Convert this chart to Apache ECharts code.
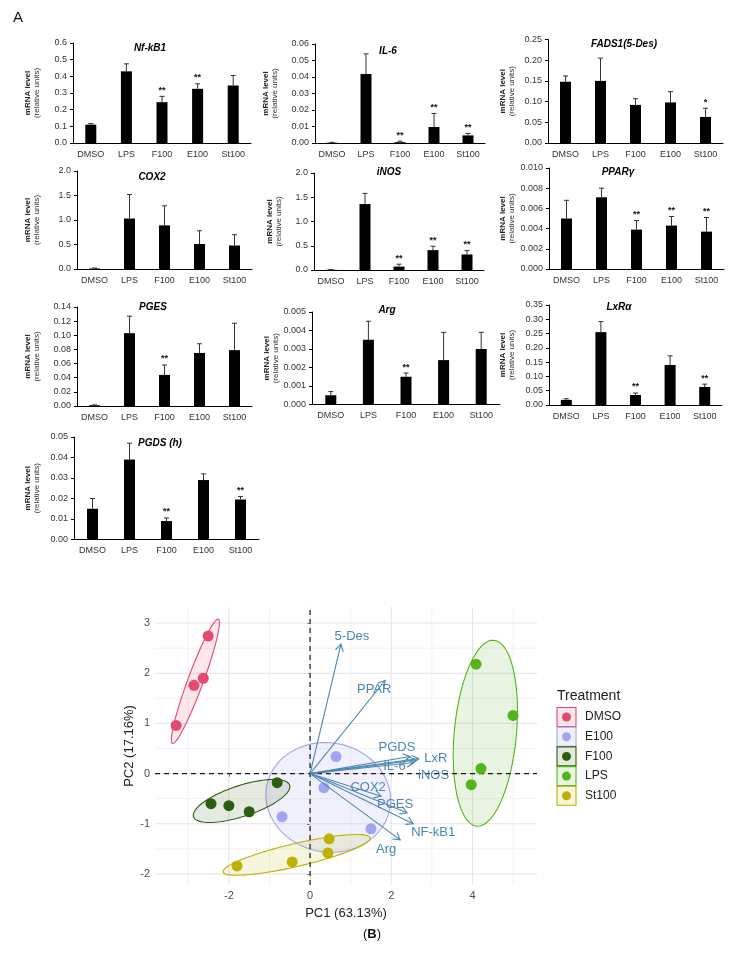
<!DOCTYPE html>
<html>
<head>
<meta charset="utf-8">
<script src="https://cdn.jsdelivr.net/npm/echarts@6.0.0/dist/echarts.min.js"></script>
<style>
  html, body { margin: 0; padding: 0; background: #fff; }
  #chart { width: 745px; height: 956px; }
</style>
</head>
<body>
<div id="chart"></div>
<script>
const FONT = 'Liberation Sans, Arial, sans-serif';

// ---- panel A: qPCR bars (mean + upper SD) ----
const groups = ['DMSO', 'LPS', 'F100', 'E100', 'St100'];

const nfkb1Mean = [0.110, 0.430, 0.245, 0.325, 0.345];
const nfkb1Sd = [0.006, 0.045, 0.035, 0.030, 0.060];
const nfkb1Sig = ['', '', '**', '**', ''];

const il6Mean = [0.0002, 0.0418, 0.0005, 0.0097, 0.0046];
const il6Sd = [0.0002, 0.0122, 0.0006, 0.0082, 0.0012];
const il6Sig = ['', '', '**', '**', '**'];

const fadsMean = [0.148, 0.150, 0.092, 0.098, 0.063];
const fadsSd = [0.014, 0.055, 0.015, 0.026, 0.021];
const fadsSig = ['', '', '', '', '*'];

const cox2Mean = [0.01, 1.03, 0.89, 0.51, 0.48];
const cox2Sd = [0.01, 0.49, 0.40, 0.27, 0.22];
const cox2Sig = ['', '', '', '', ''];

const inosMean = [0.005, 1.36, 0.07, 0.41, 0.32];
const inosSd = [0.003, 0.22, 0.05, 0.08, 0.08];
const inosSig = ['', '', '**', '**', '**'];

const pparMean = [0.0050, 0.0071, 0.0039, 0.0043, 0.0037];
const pparSd = [0.0018, 0.0009, 0.0009, 0.0009, 0.0014];
const pparSig = ['', '', '**', '**', '**'];

const pgesMean = [0.001, 0.103, 0.044, 0.075, 0.079];
const pgesSd = [0.0006, 0.024, 0.014, 0.013, 0.038];
const pgesSig = ['', '', '**', '', ''];

const argMean = [0.0005, 0.0035, 0.0015, 0.0024, 0.0030];
const argSd = [0.0002, 0.0010, 0.0002, 0.0015, 0.0009];
const argSig = ['', '', '**', '', ''];

const lxrMean = [0.018, 0.255, 0.035, 0.140, 0.063];
const lxrSd = [0.004, 0.037, 0.007, 0.032, 0.010];
const lxrSig = ['', '', '**', '', '**'];

const pgdsMean = [0.015, 0.039, 0.009, 0.029, 0.0195];
const pgdsSd = [0.005, 0.008, 0.0015, 0.003, 0.0015];
const pgdsSig = ['', '', '**', '', '**'];

const panels = [
  {gene: 'Nf-kB1', mean: nfkb1Mean, sd: nfkb1Sd, sig: nfkb1Sig, max: 0.6, step: 0.1, dec: 1},
  {gene: 'IL-6', mean: il6Mean, sd: il6Sd, sig: il6Sig, max: 0.06, step: 0.01, dec: 2},
  {gene: 'FADS1(5-Des)', mean: fadsMean, sd: fadsSd, sig: fadsSig, max: 0.25, step: 0.05, dec: 2},
  {gene: 'COX2', mean: cox2Mean, sd: cox2Sd, sig: cox2Sig, max: 2.0, step: 0.5, dec: 1},
  {gene: 'iNOS', mean: inosMean, sd: inosSd, sig: inosSig, max: 2.0, step: 0.5, dec: 1},
  {gene: 'PPARγ', mean: pparMean, sd: pparSd, sig: pparSig, max: 0.010, step: 0.002, dec: 3},
  {gene: 'PGES', mean: pgesMean, sd: pgesSd, sig: pgesSig, max: 0.14, step: 0.02, dec: 2},
  {gene: 'Arg', mean: argMean, sd: argSd, sig: argSig, max: 0.005, step: 0.001, dec: 3},
  {gene: 'LxRα', mean: lxrMean, sd: lxrSd, sig: lxrSig, max: 0.35, step: 0.05, dec: 2},
  {gene: 'PGDS (h)', mean: pgdsMean, sd: pgdsSd, sig: pgdsSig, max: 0.05, step: 0.01, dec: 2}
];

// layout of each small chart (px): plot box, title anchor, y-name gap
const boxes = [
  {left: 73, top: 43, width: 178, height: 100, tx: 150, ty: 48, gap: 32},
  {left: 315, top: 44, width: 170, height: 99, tx: 388, ty: 51, gap: 36},
  {left: 548, top: 39.5, width: 175, height: 103.5, tx: 624, ty: 44, gap: 32},
  {left: 77, top: 171, width: 175, height: 98, tx: 152, ty: 177, gap: 36},
  {left: 314, top: 173, width: 170, height: 97, tx: 389, ty: 172, gap: 31},
  {left: 549, top: 168, width: 175, height: 101, tx: 618, ty: 172, gap: 33},
  {left: 77, top: 307, width: 175, height: 99, tx: 153, ty: 307, gap: 36},
  {left: 312, top: 312, width: 188, height: 92.5, tx: 387, ty: 310, gap: 31},
  {left: 549, top: 305, width: 173, height: 100, tx: 619, ty: 307, gap: 33},
  {left: 74, top: 437, width: 185, height: 102.5, tx: 160, ty: 443, gap: 33}
];

// ---- panel B: PCA biplot ----
const treatments = ['DMSO', 'E100', 'F100', 'LPS', 'St100'];
const dmsoPC1 = [-2.51, -2.63, -2.86, -3.30];
const dmsoPC2 = [2.74, 1.90, 1.76, 0.96];
const e100PC1 = [0.64, 0.34, -0.69, 1.50];
const e100PC2 = [0.34, -0.28, -0.86, -1.10];
const f100PC1 = [-0.81, -2.44, -2.00, -1.50];
const f100PC2 = [-0.18, -0.60, -0.64, -0.76];
const lpsPC1 = [4.09, 5.00, 4.21, 3.97];
const lpsPC2 = [2.18, 1.16, 0.10, -0.22];
const st100PC1 = [-1.80, -0.44, 0.44, 0.47];
const st100PC2 = [-1.84, -1.76, -1.58, -1.30];

const loadNames = ['5-Des', 'PPAR', 'PGDS', 'LxR', 'IL-6', 'iNOS', 'COX2', 'PGES', 'NF-kB1', 'Arg'];
const loadPC1 = [0.76, 1.85, 2.46, 2.68, 2.62, 2.55, 1.75, 2.39, 2.54, 2.22];
const loadPC2 = [2.58, 1.86, 0.34, 0.30, 0.27, 0.22, -0.45, -0.78, -1.00, -1.32];

const pcXTicks = [-2, 0, 2, 4];
const pcXMinor = [-3, -1, 1, 3, 5];
const pcYTicks = [-2, -1, 0, 1, 2, 3];
const pcYMinor = [-1.5, -0.5, 0.5, 1.5, 2.5];

const groupColors = ['#E8476E', '#A3A3F3', '#2D5E10', '#55B31C', '#BDB202'];
const groupFill = ['rgba(232,71,110,0.13)', 'rgba(163,163,243,0.15)', 'rgba(45,94,16,0.13)', 'rgba(85,179,28,0.13)', 'rgba(189,178,2,0.13)'];
const arrowColor = '#4C87B0';
// label offset from arrow tip, px
const labelOffsets = [[11, -8], [-11, 9], [-13, -9], [17, 0], [-22, 6], [20, 13], [-13, -9], [-12, -8], [20, 9], [-14, 10]];
const ELLIPSE_SCALE = 1.7;

const pcaX = [-3.82, 5.59];
const pcaY = [-2.22, 3.32];

function ellipse(xs, ys) {
  const n = xs.length;
  const mx = xs.reduce((a, b) => a + b, 0) / n;
  const my = ys.reduce((a, b) => a + b, 0) / n;
  let sxx = 0, syy = 0, sxy = 0;
  for (let i = 0; i < n; i++) {
    sxx += (xs[i] - mx) ** 2;
    syy += (ys[i] - my) ** 2;
    sxy += (xs[i] - mx) * (ys[i] - my);
  }
  sxx /= n - 1; syy /= n - 1; sxy /= n - 1;
  const a = Math.sqrt(sxx), b = sxy / a, c = Math.sqrt(Math.max(syy - b * b, 0));
  const pts = [];
  for (let k = 0; k <= 90; k++) {
    const t = 2 * Math.PI * k / 90;
    const u = Math.cos(t), v = Math.sin(t);
    pts.push([mx + ELLIPSE_SCALE * a * u, my + ELLIPSE_SCALE * (b * u + c * v)]);
  }
  return pts;
}

const chart = echarts.init(document.getElementById('chart'));

const grid = [], xAxis = [], yAxis = [], series = [], graphic = [];

panels.forEach((p, i) => {
  const b = boxes[i];
  grid.push({left: b.left, top: b.top, width: b.width, height: b.height, outerBoundsMode: 'none'});
  xAxis.push({
    type: 'category', gridIndex: i, data: groups,
    axisLine: {lineStyle: {color: '#000', width: 1}},
    axisTick: {show: false},
    axisLabel: {interval: 0, fontSize: 9, color: '#333', fontFamily: FONT, margin: 7}
  });
  yAxis.push({
    type: 'value', gridIndex: i, min: 0, max: p.max, interval: p.step,
    axisLine: {show: true, lineStyle: {color: '#000', width: 1}},
    axisTick: {show: true, length: 3, lineStyle: {color: '#000'}},
    splitLine: {show: false},
    axisLabel: {fontSize: 9, color: '#333', fontFamily: FONT, margin: 6,
      formatter: v => v.toFixed(p.dec)},
    name: '{a|mRNA level}\n{b|(relative units)}',
    nameLocation: 'middle', nameRotate: 90, nameGap: b.gap,
    nameTextStyle: {
      fontFamily: FONT, color: '#222', align: 'center',
      rich: {
        a: {fontSize: 8, fontWeight: 'bold', lineHeight: 9, fontFamily: FONT, color: '#222'},
        b: {fontSize: 8, lineHeight: 9, fontFamily: FONT, color: '#333'}
      }
    }
  });
  series.push({
    type: 'bar', xAxisIndex: i, yAxisIndex: i, data: p.mean, barWidth: 11,
    itemStyle: {color: '#000'}, silent: true
  });
  series.push({
    type: 'custom', xAxisIndex: i, yAxisIndex: i, silent: true, z: 3,
    data: p.mean.map((m, k) => [k, m, m + p.sd[k]]),
    encode: {x: 0, y: 1},
    renderItem: (params, api) => {
      const k = api.value(0);
      const p0 = api.coord([k, api.value(1)]);
      const p1 = api.coord([k, api.value(2)]);
      const st = {stroke: '#333', lineWidth: 1};
      const children = [
        {type: 'line', shape: {x1: p0[0], y1: p0[1], x2: p1[0], y2: p1[1]}, style: st},
        {type: 'line', shape: {x1: p1[0] - 2.5, y1: p1[1], x2: p1[0] + 2.5, y2: p1[1]}, style: st}
      ];
      const s = p.sig[params.dataIndex];
      if (s) {
        children.push({type: 'text', x: p1[0], y: p1[1] - 6,
          style: {text: s, fontSize: 9, fontWeight: 'bold', fontFamily: FONT, fill: '#111',
            align: 'center', verticalAlign: 'middle'}});
      }
      return {type: 'group', children};
    }
  });
  graphic.push({
    type: 'text', x: b.tx, y: b.ty,
    style: {text: p.gene, fontSize: 10, fontWeight: 'bold', fontStyle: 'italic', fontFamily: FONT,
      fill: '#000', align: 'center', verticalAlign: 'middle'}
  });
});

// PCA grid
const gi = panels.length;
grid.push({left: 155, top: 607, width: 382, height: 278, outerBoundsMode: 'none'});
xAxis.push({
  type: 'value', gridIndex: gi, min: pcaX[0], max: pcaX[1],
  axisLine: {show: false}, splitLine: {show: false},
  axisTick: {show: true, customValues: pcXTicks, length: 3, lineStyle: {color: '#333'}},
  axisLabel: {customValues: pcXTicks, fontSize: 11, color: '#4D4D4D', fontFamily: FONT, margin: 5},
  name: 'PC1 (63.13%)', nameLocation: 'middle', nameGap: 22, nameMoveOverlap: false,
  nameTextStyle: {fontSize: 13, color: '#222', fontFamily: FONT}
});
yAxis.push({
  type: 'value', gridIndex: gi, min: pcaY[0], max: pcaY[1],
  axisLine: {show: false}, splitLine: {show: false},
  axisTick: {show: true, customValues: pcYTicks, length: 3, lineStyle: {color: '#333'}},
  axisLabel: {customValues: pcYTicks, fontSize: 11, color: '#4D4D4D', fontFamily: FONT, margin: 5},
  name: 'PC2 (17.16%)', nameLocation: 'middle', nameRotate: 90, nameGap: 19, nameMoveOverlap: false,
  nameTextStyle: {fontSize: 13, color: '#222', fontFamily: FONT}
});

// background grid lines
series.push({
  type: 'custom', xAxisIndex: gi, yAxisIndex: gi, silent: true, z: 1,
  data: [[0, 0]],
  renderItem: (params, api) => {
    const ch = [];
    const vline = (x, c) => {
      const a = api.coord([x, pcaY[0]]), b = api.coord([x, pcaY[1]]);
      ch.push({type: 'line', shape: {x1: a[0], y1: a[1], x2: b[0], y2: b[1]}, style: {stroke: c, lineWidth: 1}});
    };
    const hline = (y, c) => {
      const a = api.coord([pcaX[0], y]), b = api.coord([pcaX[1], y]);
      ch.push({type: 'line', shape: {x1: a[0], y1: a[1], x2: b[0], y2: b[1]}, style: {stroke: c, lineWidth: 1}});
    };
    pcXMinor.forEach(x => vline(x, '#F2F2F2'));
    pcYMinor.forEach(y => hline(y, '#F2F2F2'));
    pcXTicks.forEach(x => vline(x, '#E3E3E3'));
    pcYTicks.forEach(y => hline(y, '#E3E3E3'));
    return {type: 'group', children: ch};
  }
});

const groupPC1 = [dmsoPC1, e100PC1, f100PC1, lpsPC1, st100PC1];
const groupPC2 = [dmsoPC2, e100PC2, f100PC2, lpsPC2, st100PC2];

treatments.forEach((t, g) => {
  const pts = ellipse(groupPC1[g], groupPC2[g]);
  series.push({
    type: 'custom', xAxisIndex: gi, yAxisIndex: gi, silent: true, z: 2,
    data: [[0, 0]],
    renderItem: (params, api) => ({
      type: 'polygon',
      shape: {points: pts.map(q => api.coord(q))},
      style: {fill: groupFill[g], stroke: groupColors[g], lineWidth: 1.1}
    })
  });
});

// dashed zero lines
series.push({
  type: 'custom', xAxisIndex: gi, yAxisIndex: gi, silent: true, z: 3,
  data: [[0, 0]],
  renderItem: (params, api) => {
    const a = api.coord([pcaX[0], 0]), b = api.coord([pcaX[1], 0]);
    const c = api.coord([0, pcaY[0]]), d = api.coord([0, pcaY[1]]);
    const st = {stroke: '#1A1A1A', lineWidth: 1.2, lineDash: [5, 4]};
    return {type: 'group', children: [
      {type: 'line', shape: {x1: a[0], y1: a[1], x2: b[0], y2: b[1]}, style: st},
      {type: 'line', shape: {x1: c[0], y1: c[1], x2: d[0], y2: d[1]}, style: st}
    ]};
  }
});

treatments.forEach((t, g) => {
  series.push({
    type: 'scatter', name: t, xAxisIndex: gi, yAxisIndex: gi, z: 5, silent: true,
    symbolSize: 11, itemStyle: {color: groupColors[g], opacity: 1},
    data: groupPC1[g].map((x, k) => [x, groupPC2[g][k]])
  });
});

// loading arrows
series.push({
  type: 'custom', xAxisIndex: gi, yAxisIndex: gi, silent: true, z: 6,
  data: loadPC1.map((x, k) => [x, loadPC2[k]]),
  renderItem: (params, api) => {
    const o = api.coord([0, 0]);
    const p = api.coord([api.value(0), api.value(1)]);
    const ang = Math.atan2(p[1] - o[1], p[0] - o[0]);
    const L = 8, w = Math.PI / 6;
    const w1 = [p[0] - L * Math.cos(ang - w), p[1] - L * Math.sin(ang - w)];
    const w2 = [p[0] - L * Math.cos(ang + w), p[1] - L * Math.sin(ang + w)];
    const st = {stroke: arrowColor, lineWidth: 1.1, fill: null};
    const off = labelOffsets[params.dataIndex];
    return {type: 'group', children: [
      {type: 'line', shape: {x1: o[0], y1: o[1], x2: p[0], y2: p[1]}, style: st},
      {type: 'polyline', shape: {points: [w1, p, w2]}, style: st},
      {type: 'text', x: p[0] + off[0], y: p[1] + off[1],
        style: {text: loadNames[params.dataIndex], fontSize: 13, fontFamily: FONT, fill: arrowColor,
          align: 'center', verticalAlign: 'middle'}}
    ]};
  }
});

// legend (drawn by hand to get the boxed keys)
graphic.push({type: 'text', x: 557, y: 696,
  style: {text: 'Treatment', fontSize: 14, fontFamily: FONT, fill: '#222', verticalAlign: 'middle'}});
treatments.forEach((t, g) => {
  const cy = 717 + g * 19.7;
  graphic.push({type: 'rect', shape: {x: 557, y: cy - 9.5, width: 19, height: 19},
    style: {fill: groupFill[g], stroke: groupColors[g], lineWidth: 1.1}});
  graphic.push({type: 'circle', shape: {cx: 566.5, cy: cy, r: 4.5}, style: {fill: groupColors[g]}});
  graphic.push({type: 'text', x: 585, y: cy,
    style: {text: t, fontSize: 12, fontFamily: FONT, fill: '#222', verticalAlign: 'middle'}});
});

graphic.push({type: 'text', x: 13, y: 18,
  style: {text: 'A', fontSize: 15, fontFamily: FONT, fill: '#111', verticalAlign: 'middle'}});
graphic.push({type: 'text', x: 372, y: 934,
  style: {text: '({b|B})', fontSize: 13, fontFamily: FONT, fill: '#111', align: 'center', verticalAlign: 'middle',
    rich: {b: {fontSize: 13, fontWeight: 'bold', fontFamily: FONT, fill: '#111'}}}});

chart.setOption({
  backgroundColor: '#fff',
  animation: false,
  grid, xAxis, yAxis, series, graphic
});
</script>
</body>
</html>
